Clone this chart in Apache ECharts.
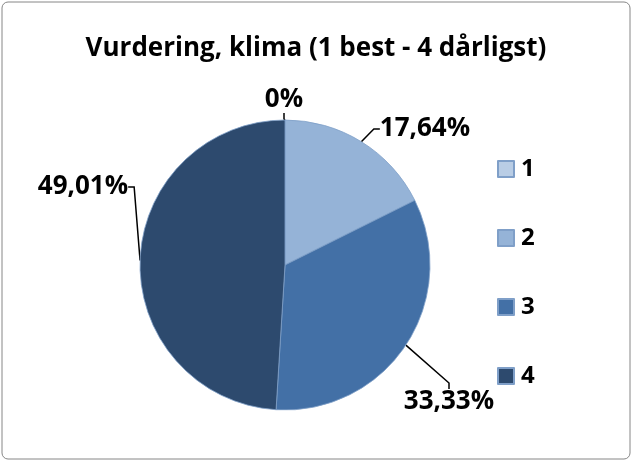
<!DOCTYPE html>
<html>
<head>
<meta charset="UTF-8">
<title>Vurdering, klima</title>
	<script src="https://cdn.jsdelivr.net/npm/echarts@6/dist/echarts.min.js"></script>
</head>
<body style="margin:0">
	<div id="main" style="width: 632px;height:461px;"></div>
	<script type="text/javascript">
		var categories = ['1', '2', '3', '4'];
		var values = [0, 17.64, 33.33, 49.01];
		var labels = ['0%', '17,64%', '33,33%', '49,01%'];
		var colors = ['#B9CDE5', '#95B3D7', '#4370A6', '#2D4A6E'];

		// where each percent label sits
		var labelPos = [
			{ x: 284, y: 100 },
			{ x: 425, y: 129 },
			{ x: 449, y: 402 },
			{ x: 83, y: 187 }
		];

		var myChart = echarts.init(document.getElementById('main'));

		var option = {
			backgroundColor: '#fff',
			textStyle: { fontFamily: 'Open Sans' },
			title: {
				text: 'Vurdering, klima (1 best - 4 dårligst)',
				left: 'center',
				top: 31,
				textStyle: { fontSize: 26, fontWeight: 'bold', color: '#000', fontFamily: 'Open Sans' }
			},
			graphic: [{
				type: 'rect',
				shape: { x: 2, y: 2, width: 628, height: 457, r: 6 },
				style: { fill: 'none', stroke: '#868686', lineWidth: 1 }
			}],
			legend: {
				orient: 'vertical',
				left: 492,
				top: 152,
				itemGap: 45,
				itemWidth: 16,
				itemHeight: 16,
				icon: 'rect',
				textStyle: { fontSize: 24, fontWeight: 'bold', color: '#000', padding: [0, 0, 0, 2] },
				data: categories
			},
			series: [{
				type: 'pie',
				center: [285, 265],
				radius: 145,
				startAngle: 90,
				clockwise: true,
				avoidLabelOverlap: false,
				label: {
					show: true,
					position: 'outside',
					fontSize: 26,
					fontWeight: 'bold',
					color: '#000',
					formatter: function (p) { return labels[p.dataIndex]; }
				},
				labelLine: {
					show: true,
					length: 10,
					length2: 6,
					lineStyle: { color: '#000', width: 1.5 }
				},
				labelLayout: function (p) {
					var pos = labelPos[p.dataIndex];
					return { x: pos.x, y: pos.y, align: 'center', verticalAlign: 'middle' };
				},
				itemStyle: { borderColor: '#7f9fc8', borderWidth: 0.8 },
				data: categories.map(function (c, i) {
					return { name: c, value: values[i], itemStyle: { color: colors[i] } };
				})
			}]
		};

		myChart.setOption(option);
	</script>
</body>
</html>
